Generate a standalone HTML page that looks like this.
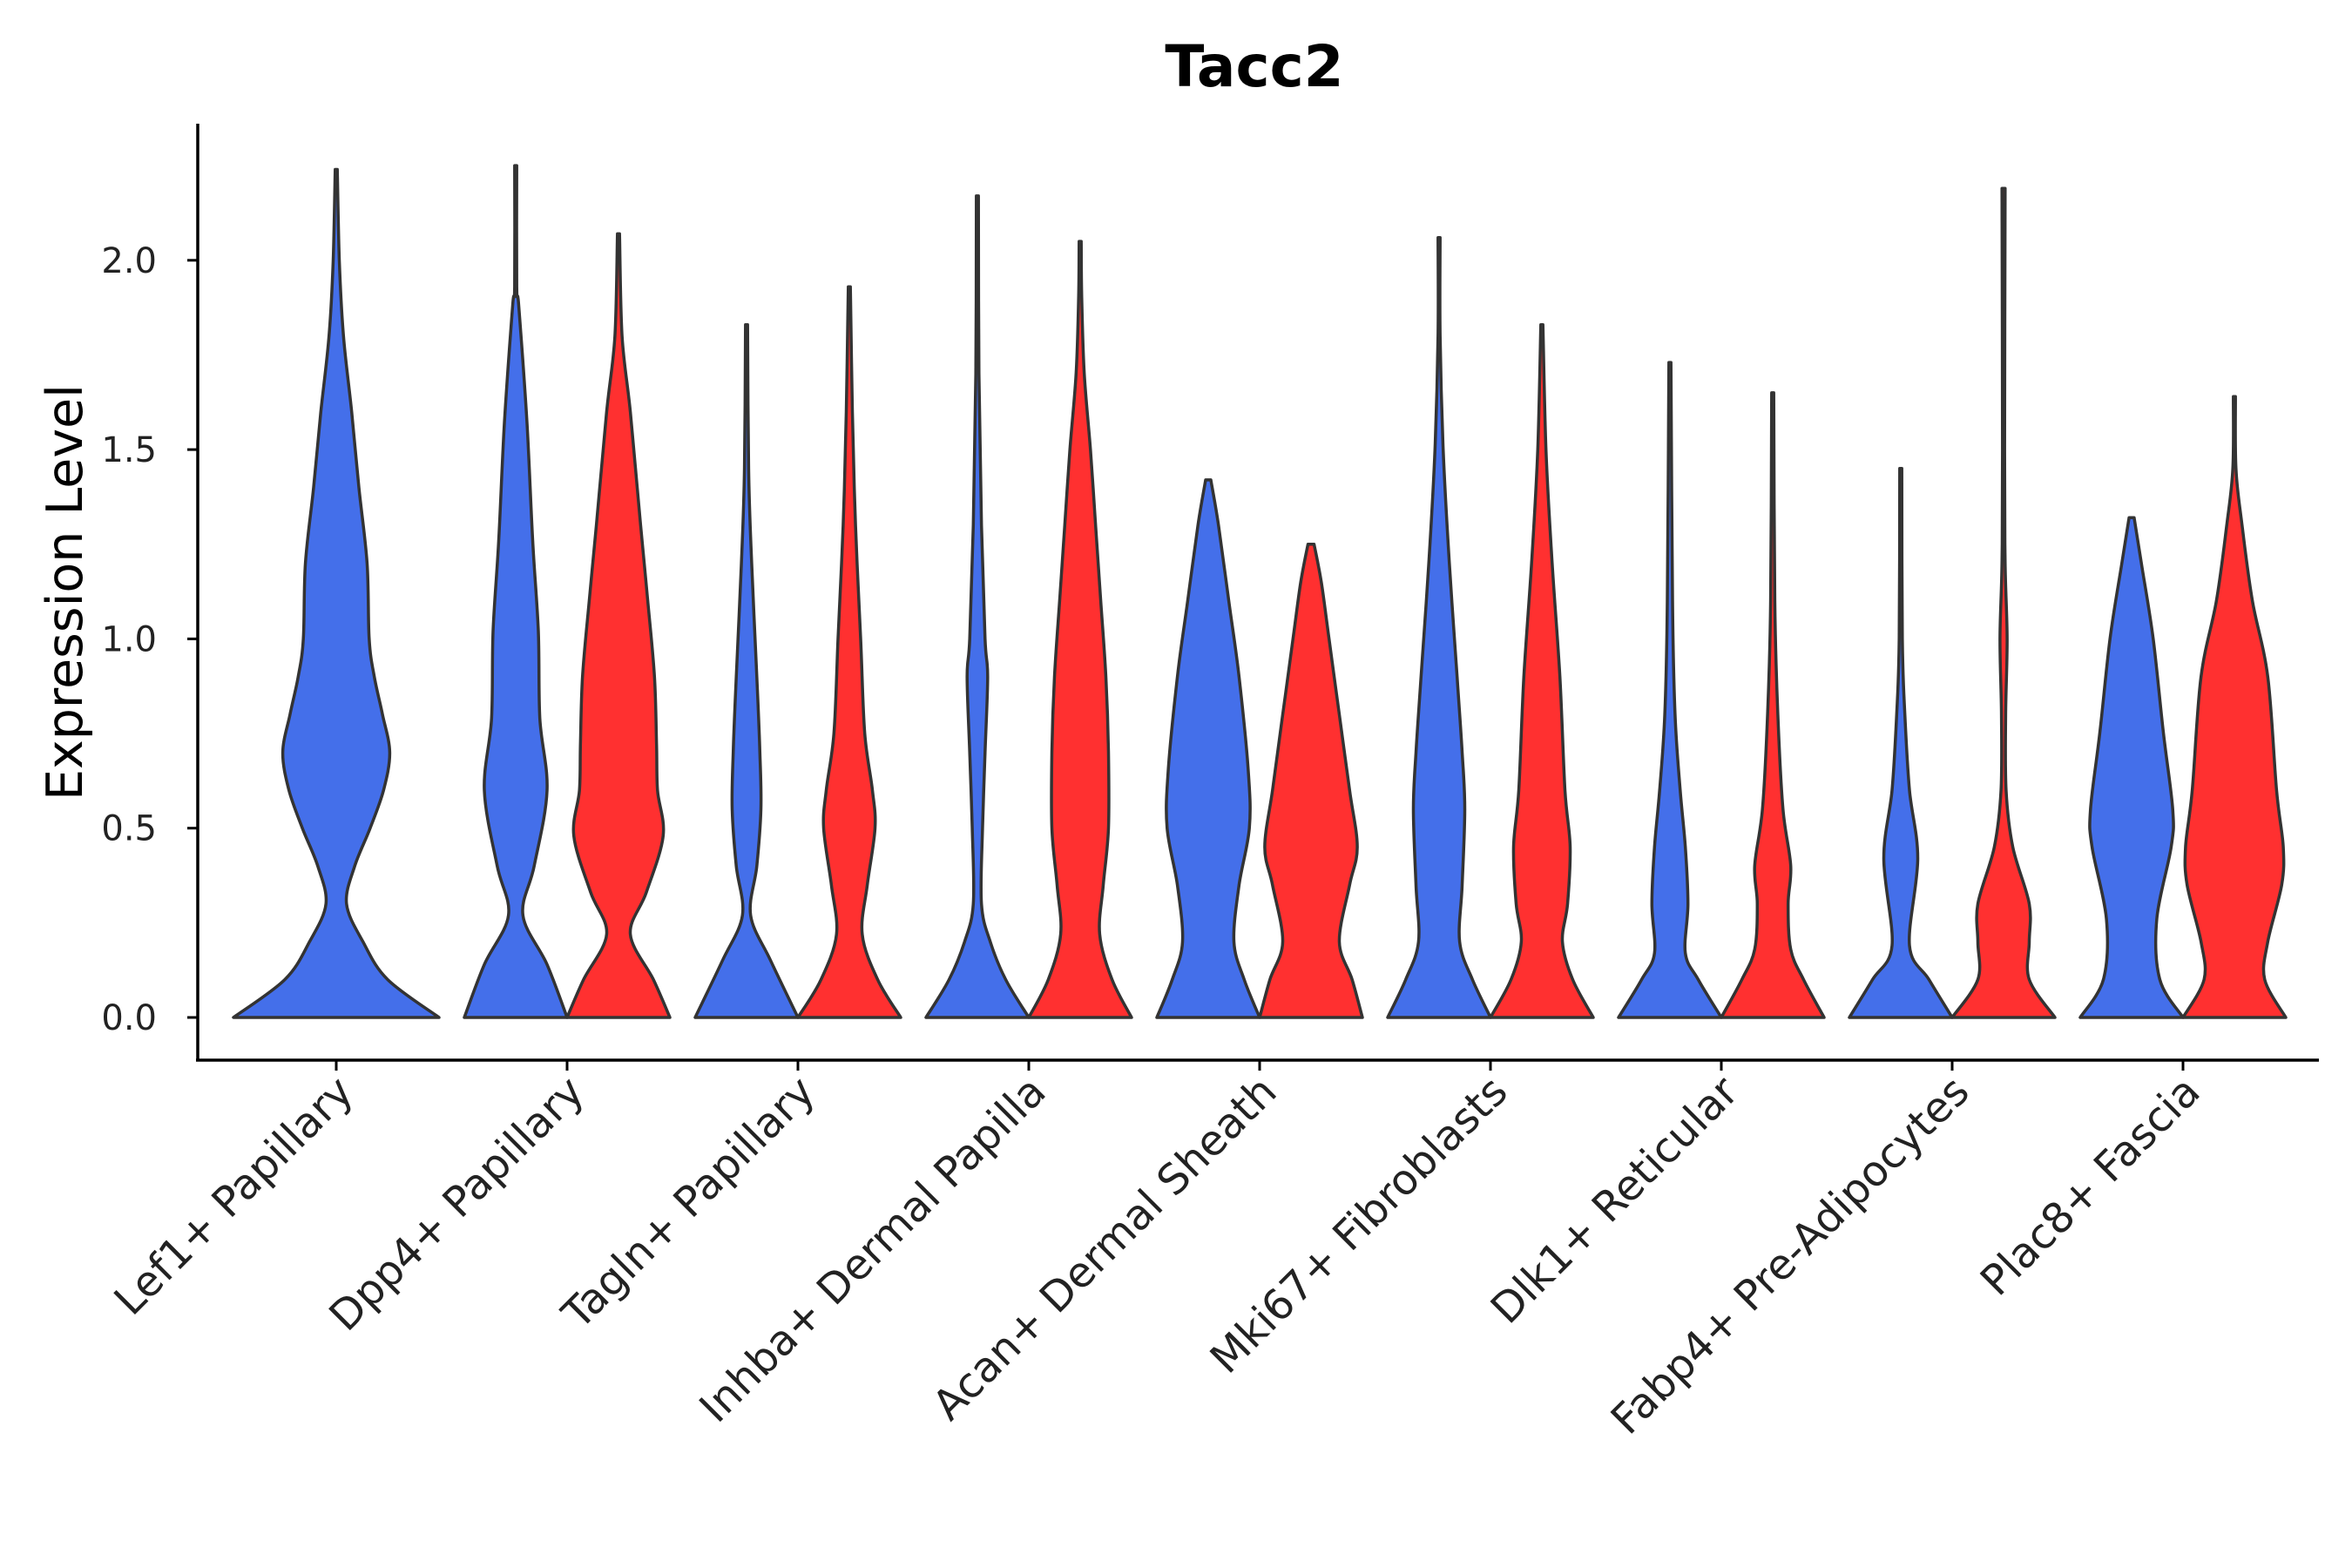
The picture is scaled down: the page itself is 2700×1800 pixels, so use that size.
<!DOCTYPE html>
<html><head><meta charset="utf-8"><style>
html,body{margin:0;padding:0;background:#fff;}
svg{display:block;font-family:"DejaVu Sans","Liberation Sans",sans-serif;}
</style></head><body>
<svg id="chart" width="2700" height="1800" viewBox="0 0 2700 1800" xmlns="http://www.w3.org/2000/svg">
<rect width="2700" height="1800" fill="#fff"/>
<text x="1440" y="99" text-anchor="middle" font-size="66" font-weight="bold" fill="#000">Tacc2</text>
<g id="plot"></g>
<text transform="translate(94,680) rotate(-90)" text-anchor="middle" font-size="57" fill="#000">Expression Level</text>
</svg>
<script>
const categories = ["Lef1+ Papillary","Dpp4+ Papillary","Tagln+ Papillary","Inhba+ Dermal Papilla","Acan+ Dermal Sheath","Mki67+ Fibroblasts","Dlk1+ Reticular","Fabp4+ Pre-Adipocytes","Plac8+ Fascia"];
const yTicks = [0, 0.5, 1.0, 1.5, 2.0];
const yTickLabels = ["0.0","0.5","1.0","1.5","2.0"];
// each violin: levels (expression values) and relative widths (density)
const lef1Lev = [0,0.1,0.2,0.3,0.4,0.5,0.6,0.7,0.8,0.9,1.0,1.2,1.4,1.6,1.8,2.0,2.24];
const lef1Den = [1,0.5,0.26,0.1,0.18,0.33,0.46,0.52,0.45,0.37,0.32,0.3,0.22,0.15,0.07,0.03,0.01];
const dpp4ALev = [0,0.14,0.27,0.4,0.6,0.79,1.02,1.26,1.57,1.88,1.93,2.25];
const dpp4ADen = [1,0.61,0.14,0.36,0.61,0.47,0.44,0.33,0.22,0.06,0.02,0.02];
const dpp4BLev = [0,0.1,0.22,0.33,0.48,0.6,0.72,0.9,1.1,1.3,1.6,1.8,2.07];
const dpp4BDen = [1,0.68,0.23,0.54,0.87,0.76,0.74,0.7,0.57,0.43,0.23,0.07,0.02];
const taglnALev = [0,0.15,0.27,0.4,0.55,0.7,0.9,1.2,1.45,1.83];
const taglnADen = [1,0.47,0.08,0.2,0.28,0.26,0.2,0.1,0.04,0.02];
const taglnBLev = [0,0.1,0.22,0.35,0.5,0.6,0.75,1.0,1.3,1.6,1.93];
const taglnBDen = [1,0.55,0.25,0.35,0.5,0.45,0.3,0.22,0.12,0.06,0.02];
const inhbaALev = [0,0.1,0.2,0.3,0.5,0.7,0.9,1.0,1.3,1.7,2.17];
const inhbaADen = [1,0.55,0.25,0.08,0.1,0.15,0.2,0.15,0.08,0.03,0.02];
const inhbaBLev = [0,0.1,0.22,0.35,0.5,0.7,0.9,1.1,1.3,1.5,1.7,1.9,2.05];
const inhbaBDen = [1,0.62,0.38,0.45,0.55,0.55,0.5,0.4,0.3,0.2,0.08,0.03,0.02];
const acanALev = [0,0.1,0.2,0.35,0.5,0.65,0.9,1.1,1.3,1.42];
const acanADen = [1,0.7,0.5,0.6,0.8,0.78,0.6,0.4,0.2,0.05];
const acanBLev = [0,0.1,0.2,0.35,0.45,0.6,0.8,1.0,1.15,1.25];
const acanBDen = [1,0.8,0.55,0.75,0.9,0.75,0.55,0.35,0.2,0.06];
const mki67ALev = [0,0.1,0.2,0.35,0.55,0.7,0.9,1.2,1.5,1.8,2.06];
const mki67ADen = [1,0.65,0.4,0.45,0.5,0.45,0.35,0.2,0.08,0.02,0.02];
const mki67BLev = [0,0.1,0.2,0.3,0.45,0.6,0.9,1.2,1.5,1.83];
const mki67BDen = [1,0.6,0.4,0.5,0.55,0.45,0.35,0.2,0.08,0.02];
const dlk1ALev = [0,0.1,0.17,0.3,0.45,0.6,0.8,1.1,1.73];
const dlk1ADen = [1,0.55,0.3,0.35,0.3,0.2,0.1,0.05,0.02];
const dlk1BLev = [0,0.1,0.18,0.3,0.4,0.55,0.8,1.1,1.65];
const dlk1BDen = [1,0.6,0.35,0.3,0.35,0.2,0.1,0.04,0.02];
const fabp4ALev = [0,0.1,0.19,0.42,0.6,0.8,1.0,1.45];
const fabp4ADen = [1,0.55,0.17,0.33,0.17,0.08,0.03,0.02];
const fabp4BLev = [0,0.1,0.2,0.3,0.45,0.6,0.8,1.0,1.2,1.5,2.19];
const fabp4BDen = [1,0.5,0.5,0.5,0.18,0.05,0.04,0.07,0.03,0.02,0.03];
const plac8ALev = [0,0.1,0.26,0.45,0.55,0.75,1.0,1.2,1.32];
const plac8ADen = [1,0.55,0.49,0.77,0.8,0.62,0.42,0.19,0.05];
const plac8BLev = [0,0.1,0.2,0.35,0.45,0.6,0.9,1.1,1.3,1.45,1.64];
const plac8BDen = [1,0.59,0.65,0.92,0.95,0.82,0.65,0.35,0.15,0.03,0.02];

const violins = [
 {g:0, slot:0, n:1, lev:lef1Lev, den:lef1Den, c:"#446FEA", name:"lef1-violin"},
 {g:1, slot:0, n:2, lev:dpp4ALev, den:dpp4ADen, c:"#446FEA", name:"dpp4-violin-blue"},
 {g:1, slot:1, n:2, lev:dpp4BLev, den:dpp4BDen, c:"#FF3030", name:"dpp4-violin-red"},
 {g:2, slot:0, n:2, lev:taglnALev, den:taglnADen, c:"#446FEA", name:"tagln-violin-blue"},
 {g:2, slot:1, n:2, lev:taglnBLev, den:taglnBDen, c:"#FF3030", name:"tagln-violin-red"},
 {g:3, slot:0, n:2, lev:inhbaALev, den:inhbaADen, c:"#446FEA", name:"inhba-violin-blue"},
 {g:3, slot:1, n:2, lev:inhbaBLev, den:inhbaBDen, c:"#FF3030", name:"inhba-violin-red"},
 {g:4, slot:0, n:2, lev:acanALev, den:acanADen, c:"#446FEA", name:"acan-violin-blue"},
 {g:4, slot:1, n:2, lev:acanBLev, den:acanBDen, c:"#FF3030", name:"acan-violin-red"},
 {g:5, slot:0, n:2, lev:mki67ALev, den:mki67ADen, c:"#446FEA", name:"mki67-violin-blue"},
 {g:5, slot:1, n:2, lev:mki67BLev, den:mki67BDen, c:"#FF3030", name:"mki67-violin-red"},
 {g:6, slot:0, n:2, lev:dlk1ALev, den:dlk1ADen, c:"#446FEA", name:"dlk1-violin-blue"},
 {g:6, slot:1, n:2, lev:dlk1BLev, den:dlk1BDen, c:"#FF3030", name:"dlk1-violin-red"},
 {g:7, slot:0, n:2, lev:fabp4ALev, den:fabp4ADen, c:"#446FEA", name:"fabp4-violin-blue"},
 {g:7, slot:1, n:2, lev:fabp4BLev, den:fabp4BDen, c:"#FF3030", name:"fabp4-violin-red"},
 {g:8, slot:0, n:2, lev:plac8ALev, den:plac8ADen, c:"#446FEA", name:"plac8-violin-blue"},
 {g:8, slot:1, n:2, lev:plac8BLev, den:plac8BDen, c:"#FF3030", name:"plac8-violin-red"}
];

const NS="http://www.w3.org/2000/svg";
const plot=document.getElementById('plot');
const X0=386, XSTEP=265, Y0=1168, YSCALE=434.6, DODGE=236;
function xScale(i){return X0+i*XSTEP;}
function yScale(v){return Y0-v*YSCALE;}

function smoothSide(pts){
  let d="";
  for(let i=0;i<pts.length-1;i++){
    const p0=pts[Math.max(i-1,0)],p1=pts[i],p2=pts[i+1],p3=pts[Math.min(i+2,pts.length-1)];
    const c1=[p1[0]+(p2[0]-p0[0])/6,p1[1]+(p2[1]-p0[1])/6];
    const c2=[p2[0]-(p3[0]-p1[0])/6,p2[1]-(p3[1]-p1[1])/6];
    d+=` C${c1[0].toFixed(1)},${c1[1].toFixed(1)} ${c2[0].toFixed(1)},${c2[1].toFixed(1)} ${p2[0].toFixed(1)},${p2[1].toFixed(1)}`;
  }
  return d;
}

violins.forEach(v=>{
  const w=DODGE/v.n;
  const cx=xScale(v.g)-DODGE/2+w*(v.slot+0.5);
  const hw=w/2;
  const right=v.lev.map((l,i)=>[cx+v.den[i]*hw, yScale(l)]);
  const left=v.lev.map((l,i)=>[cx-v.den[i]*hw, yScale(l)]).reverse();
  let d=`M${right[0][0].toFixed(1)},${right[0][1].toFixed(1)}`+smoothSide(right)+
        ` L${left[0][0].toFixed(1)},${left[0][1].toFixed(1)}`+smoothSide(left)+" Z";
  const p=document.createElementNS(NS,'path');
  p.setAttribute('d',d);
  p.setAttribute('fill',v.c);
  p.setAttribute('stroke','#333');
  p.setAttribute('stroke-width','3.5');
  p.setAttribute('stroke-linejoin','round');
  
  
  plot.appendChild(p);
});

function line(x1,y1,x2,y2,sw,name){
  const l=document.createElementNS(NS,'line');
  l.setAttribute('x1',x1);l.setAttribute('y1',y1);l.setAttribute('x2',x2);l.setAttribute('y2',y2);
  l.setAttribute('stroke','#000');l.setAttribute('stroke-width',sw);
  
  
  plot.appendChild(l);
}
line(227,142,227,1218,3.5,'y-axis-line');
line(225,1217,2662,1217,3.5,'x-axis-line');

yTicks.forEach((t,i)=>{
  line(215,yScale(t),227,yScale(t),3,'y-tick');
  const tx=document.createElementNS(NS,'text');
  tx.setAttribute('x',180);tx.setAttribute('y',yScale(t)+14);
  tx.setAttribute('text-anchor','end');tx.setAttribute('font-size','40');tx.setAttribute('fill','#222');
  tx.textContent=yTickLabels[i];
  
  
  plot.appendChild(tx);
});

categories.forEach((c,i)=>{
  const x=xScale(i);
  line(x,1217,x,1229,3,'x-tick');
  const tx=document.createElementNS(NS,'text');
  tx.setAttribute('transform',`translate(${x+22},${1256}) rotate(-45)`);
  tx.setAttribute('text-anchor','end');tx.setAttribute('font-size','48');tx.setAttribute('fill','#222');
  tx.textContent=c;
  
  
  plot.appendChild(tx);
});
</script>
</body></html>
